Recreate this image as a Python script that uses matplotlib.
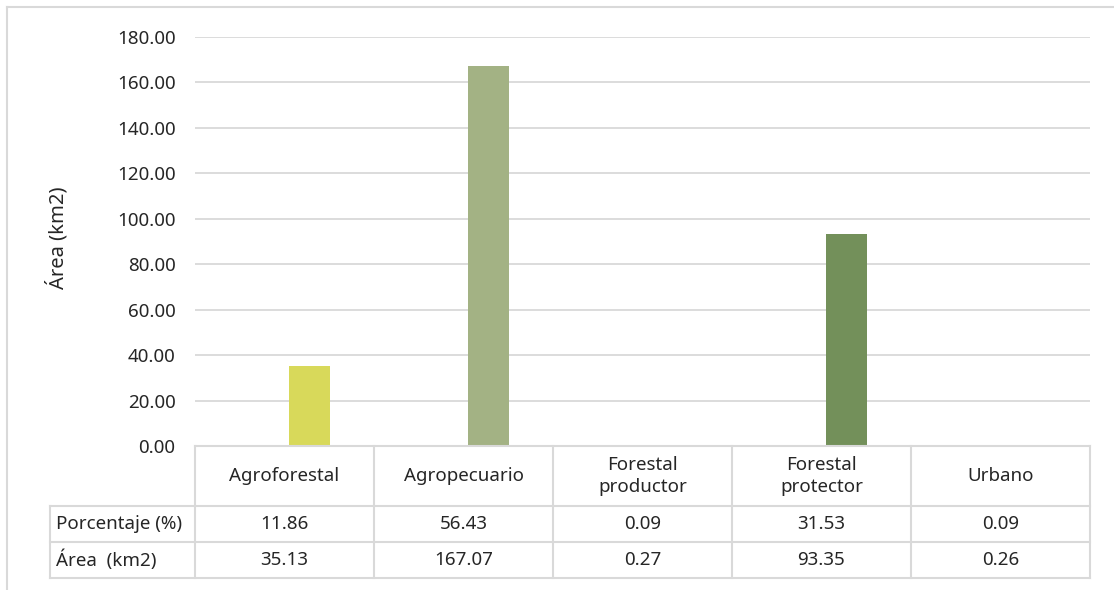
import matplotlib
matplotlib.use("Agg")
import matplotlib.pyplot as plt
from matplotlib import transforms
from matplotlib.lines import Line2D

# Land-use categories and their values
categories = ["Agroforestal", "Agropecuario", "Forestal\nproductor", "Forestal\nprotector", "Urbano"]
porcentaje = [11.86, 56.43, 0.09, 31.53, 0.09]
area_km2 = [35.13, 167.07, 0.27, 93.35, 0.26]
row_labels = ["Porcentaje (%)", "Área  (km2)"]
y_ticks = [0, 20, 40, 60, 80, 100, 120, 140, 160, 180]
bar_colors = ["#D8D95A", "#A3B284", "#8FA66A", "#73905A", "#5E7A45"]

plt.rcParams["font.family"] = ["Noto Sans", "DejaVu Sans"]
FS = 13.5
plt.rcParams["font.size"] = FS

W, H = 1114, 590
GRID = "#D9D9D9"
TEXT = "#262626"

fig = plt.figure(figsize=(W / 100, H / 100), dpi=100)
fig.patch.set_facecolor("white")

# plot area in pixel terms
left_px, right_px, top_px, bottom_px = 195, 1090, 37, 446
ax = fig.add_axes([left_px / W, 1 - bottom_px / H,
                   (right_px - left_px) / W, (bottom_px - top_px) / H])

x = list(range(len(categories)))
ax.bar([i + 0.14 for i in x], area_km2, width=0.23, color=bar_colors, zorder=3)

ax.set_xlim(-0.5, len(categories) - 0.5)
ax.set_ylim(y_ticks[0], y_ticks[-1])
ax.set_yticks(y_ticks)
ax.set_yticklabels([f"{v:.2f}" for v in y_ticks], color=TEXT, fontsize=FS)
ax.tick_params(axis="y", length=0, pad=14)
ax.set_xticks([])
ax.yaxis.grid(True, color=GRID, linewidth=1.3, zorder=0)
for s in ax.spines.values():
    s.set_visible(False)

# data table below the axis: x in data units, y in figure pixels
tr = transforms.blended_transform_factory(ax.transData, fig.transFigure)


def fy(px):
    return 1 - px / H


row_y = [446, 506, 542, 578]
x0 = -0.5
x1 = len(categories) - 0.5
label_left = x0 - (195 - 50) / 179

line_kw = dict(color=GRID, linewidth=1.5, transform=tr, clip_on=False, zorder=5)
# horizontal rules
ax.add_line(Line2D([x0, x1], [fy(row_y[0])] * 2, **line_kw))
for yy in row_y[1:]:
    ax.add_line(Line2D([label_left, x1], [fy(yy)] * 2, **line_kw))
# vertical rules
for i in range(len(categories) + 1):
    xe = x0 + i
    ax.add_line(Line2D([xe, xe], [fy(row_y[0]), fy(row_y[-1])], **line_kw))
ax.add_line(Line2D([label_left, label_left], [fy(row_y[1]), fy(row_y[-1])], **line_kw))

# header labels
for i, c in enumerate(categories):
    ax.text(i, fy((row_y[0] + row_y[1]) / 2), c, transform=tr, ha="center",
            va="center", fontsize=FS, color=TEXT, linespacing=1.3, clip_on=False)

# table rows
rows = [porcentaje, area_km2]
for r, (lab, vals) in enumerate(zip(row_labels, rows)):
    yc = fy((row_y[r + 1] + row_y[r + 2]) / 2)
    ax.text(label_left + 0.035, yc, lab, transform=tr, ha="left", va="center",
            fontsize=FS, color=TEXT, clip_on=False)
    for i, v in enumerate(vals):
        ax.text(i, yc, f"{v:.2f}", transform=tr, ha="center", va="center",
                fontsize=FS, color=TEXT, clip_on=False)

# y-axis title
fig.text(57 / W, 1 - 238 / H, "Área (km2)", rotation=90, ha="center",
         va="center", fontsize=14.5, color=TEXT)

# chart frame (top and left edges)
fig.add_artist(Line2D([7 / W, 1], [1 - 7 / H, 1 - 7 / H], transform=fig.transFigure,
                      color=GRID, linewidth=1.5))
fig.add_artist(Line2D([7 / W, 7 / W], [0, 1 - 7 / H], transform=fig.transFigure,
                      color=GRID, linewidth=1.5))

fig.savefig("out.png", dpi=100, facecolor="white")
